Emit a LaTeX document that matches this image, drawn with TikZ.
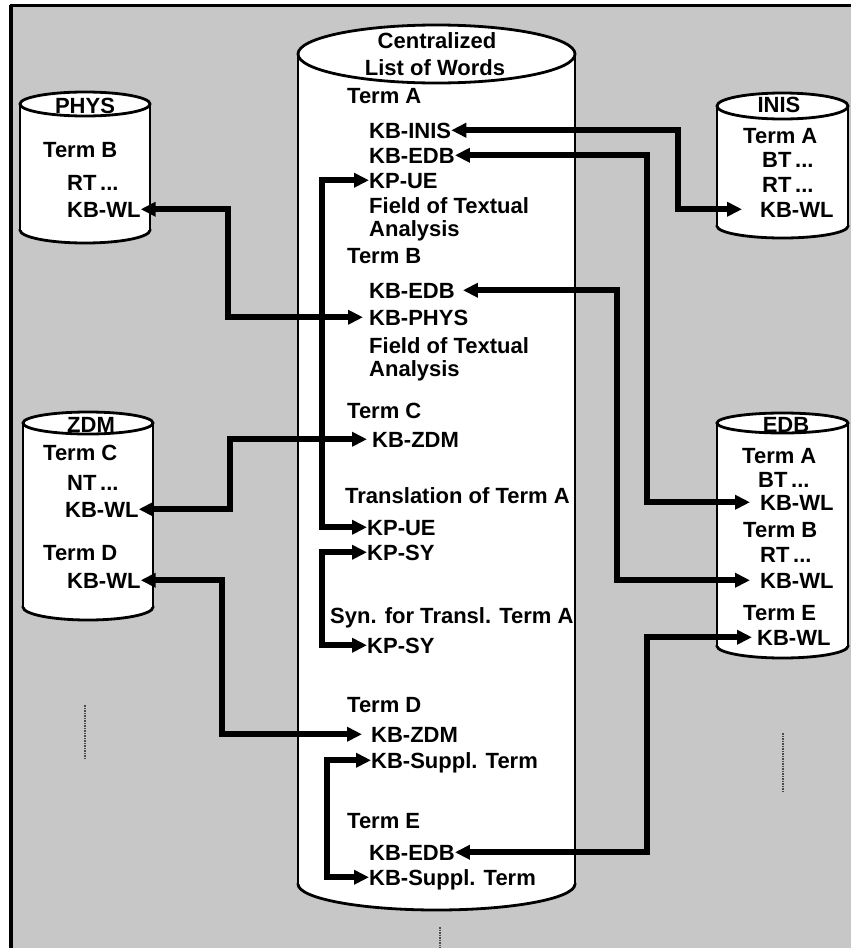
\documentclass[tikz,border=0pt]{standalone}
\usepackage{fontspec}
\setmainfont{Liberation Sans}
\usetikzlibrary{arrows.meta}
\definecolor{bgc}{gray}{0.78}
\newcommand\drawcyl[6]{%
  \pgfmathsetmacro\cylcx{(#1+#2)/2}%
  \pgfmathsetmacro\cylrx{(#2-#1)/2}%
  \draw[cylline, fill=white] (\cylcx,#4) ellipse [x radius=\cylrx, y radius=#6];
  \fill[white] (#1,#3) rectangle (#2,#4);
  \draw[cylline] (#1,#3) -- (#1,#4) (#2,#3) -- (#2,#4);
  \draw[cylline, fill=white] (\cylcx,#3) ellipse [x radius=\cylrx, y radius=#5];
}
\begin{document}
\begin{tikzpicture}[x=1pt,y=-1pt,
  lbl/.style={inner sep=0pt, font=\fontsize{22}{25}\selectfont\bfseries,
              text height=15.5pt, text depth=0pt, anchor=base west},
  ttl/.style={lbl, anchor=base},
  cylline/.style={line width=2.8pt},
  conn/.style={line width=6pt,
     {Triangle[length=15pt,width=14pt]}-{Triangle[length=15pt,width=14pt]}},
  speck/.style={line width=1.5pt, densely dotted, black!70}]
\useasboundingbox (0,0) rectangle (851,948);
\fill[white] (0,0) rectangle (851,948);
\fill[bgc] (11,5) rectangle (851,948);
\draw[line width=3pt] (10,5) -- (851,5);
\draw[line width=4pt] (11,5) -- (11,948);

% specks
\draw[speck] (85,705) -- (85,760);
\draw[speck] (783,733) -- (783,793);
\draw[speck] (440,927) -- (440,948);

% cylinders: xl, xr, ytop, ybottom, ry top, ry bottom
\drawcyl{298}{575}{54}{884}{29}{26}
\drawcyl{20}{150}{104}{230}{12}{13}
\drawcyl{717}{848}{106}{226}{13}{12}
\drawcyl{23}{153}{423}{607}{11}{13}
\drawcyl{717}{848}{423}{646}{10}{12}

% vertical corridors
\coordinate (v678) at (678,0);
\coordinate (v647) at (647,0);
\coordinate (v617) at (617,0);
\coordinate (v228) at (228,0);
\coordinate (v230) at (230,0);
\coordinate (v222) at (222,0);
\coordinate (v322) at (322,0);
\coordinate (v327) at (327,0);

% central list
\node[ttl] (cent1) at (437,48) {Centralized};
\node[ttl] (cent2) at (435,75) {List of Words};
\node[lbl] (ctA) at (347,103) {Term A};
\node[lbl] (cinis) at (369,138) {KB-INIS};
\node[lbl] (cedbA) at (369,163) {KB-EDB};
\node[lbl] (cueA) at (369,188) {KP-UE};
\node[lbl] (cfA1) at (369,213) {Field of Textual};
\node[lbl] (cfA2) at (369,236) {Analysis};
\node[lbl] (ctB) at (347,263) {Term B};
\node[lbl] (cedbB) at (369,298) {KB-EDB};
\node[lbl] (cphys) at (369,325) {KB-PHYS};
\node[lbl] (cfB1) at (369,353) {Field of Textual};
\node[lbl] (cfB2) at (369,376) {Analysis};
\node[lbl] (ctC) at (347,418) {Term C};
\node[lbl] (czdmC) at (372,447) {KB-ZDM};
\node[lbl] (ctrans) at (345,503) {Translation of Term A};
\node[lbl] (cueT) at (367,535) {KP-UE};
\node[lbl] (csyT) at (367,560) {KP-SY};
\node[lbl] (csyn) at (330,623) {Syn. for Transl. Term A};
\node[lbl] (csyS) at (367,653) {KP-SY};
\node[lbl] (ctD) at (347,712) {Term D};
\node[lbl] (czdmD) at (371,742) {KB-ZDM};
\node[lbl] (csupD) at (371,768) {KB-Suppl. Term};
\node[lbl] (ctE) at (347,828) {Term E};
\node[lbl] (cedbE) at (369,860) {KB-EDB};
\node[lbl] (csupE) at (369,885) {KB-Suppl. Term};

% PHYS
\node[ttl] (phys) at (85,113) {PHYS};
\node[lbl] (pB) at (43,157) {Term B};
\node[lbl] (pRT) at (67,190) {RT\,...};
\node[lbl] (pWL) at (67,217) {KB-WL};

% INIS
\node[ttl] (inis) at (779,112) {INIS};
\node[lbl] (iA) at (743,143) {Term A};
\node[lbl] (iBT) at (762,167) {BT\,...};
\node[lbl] (iRT) at (762,192) {RT\,...};
\node[lbl] (iWL) at (760,217) {KB-WL};

% ZDM
\node[ttl] (zdm) at (91,432) {ZDM};
\node[lbl] (zC) at (43,460) {Term C};
\node[lbl] (zNT) at (67,490) {NT\,...};
\node[lbl] (zWLC) at (65,517) {KB-WL};
\node[lbl] (zD) at (43,560) {Term D};
\node[lbl] (zWLD) at (67,588) {KB-WL};

% EDB
\node[ttl] (edb) at (786,432) {EDB};
\node[lbl] (eA) at (742,463) {Term A};
\node[lbl] (eBT) at (758,487) {BT\,...};
\node[lbl] (eWLA) at (760,510) {KB-WL};
\node[lbl] (eB) at (743,537) {Term B};
\node[lbl] (eRT) at (760,562) {RT\,...};
\node[lbl] (eWLB) at (760,588) {KB-WL};
\node[lbl] (eE) at (743,620) {Term E};
\node[lbl] (eWLE) at (757,645) {KB-WL};

% connectors
\draw[conn] (cinis.east) -- (cinis.east -| v678) |- ([xshift=-18pt]iWL.west);
\draw[conn] (cedbA.east) -- (cedbA.east -| v647) |- ([xshift=-10pt]eWLA.west);
\draw[conn] ([xshift=8pt]cedbB.east) -- (cedbB.east -| v617) |- ([xshift=-10pt]eWLB.west);
\draw[conn] (cedbE.east) -- (cedbE.east -| v647) |- ([xshift=-5pt]eWLE.west);
\draw[conn] (pWL.east) -- (pWL.east -| v228) |- ([xshift=-6pt]cphys.west);
\draw[conn] (zWLC.east) -- (zWLC.east -| v230) |- ([xshift=-5pt]czdmC.west);
\draw[conn] (zWLD.east) -- (zWLD.east -| v222) |- ([xshift=-9pt]czdmD.west);
\draw[conn] (cueA.west) -- (cueA.west -| v322) |- (cueT.west);
\draw[conn] (csyT.west) -- (csyT.west -| v322) |- (csyS.west);
\draw[conn] (csupD.west) -- (csupD.west -| v327) |- (csupE.west);
\end{tikzpicture}
\end{document}
